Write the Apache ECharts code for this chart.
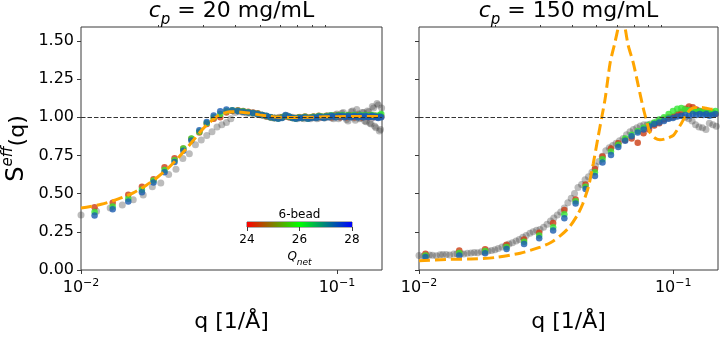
<!DOCTYPE html>
<html><head><meta charset="utf-8">
<script src="https://cdn.jsdelivr.net/npm/echarts@6/dist/echarts.min.js"></script>
<style>html,body{margin:0;padding:0;background:#fff}#c{width:722px;height:338px}</style>
</head><body><div id="c"></div>
<script>
// ---------- tick labels / axes ----------
const yTicks = [0, 0.25, 0.5, 0.75, 1.0, 1.25, 1.5];
const xMajorTicks = [0.01, 0.1];
const xMinorTicks = [0.02, 0.03, 0.04, 0.05, 0.06, 0.07, 0.08, 0.09];
const cbarTicks = [24, 26, 28];
const panelTitles = ['20', '150'];

// ---------- left panel (c_p = 20 mg/mL) ----------
const qLeftColored = [
 0.0113,0.0133,0.0153,0.0173,0.0192,0.0212,0.0232,0.0251,0.0270,0.0290,
 0.0310,0.0330,0.0350,0.0370,0.0390,0.0410,0.0430,0.0450,0.0470,0.0490,
 0.0510,0.0530,0.0550,0.0570,0.0590,0.0610,0.0630,0.0650,0.0670,0.0690,
 0.0710,0.0730,0.0750,0.0770,0.0790,0.0810,0.0830,0.0850,0.0870,0.0890,
 0.0910,0.0930,0.0950,0.0970,0.0990,0.1010,0.1030,0.1050,0.1070,0.1090,
 0.1110,0.1130,0.1150,0.1170,0.1190,0.1210,0.1230,0.1250,0.1270,0.1290,
 0.1310,0.1330,0.1350,0.1370,0.1390,0.1410,0.1430,0.1450,0.1470,0.1490];
const leftQ24 = [
 0.410,0.440,0.492,0.545,0.594,0.672,0.731,0.795,0.858,0.900,
 0.955,0.990,1.000,1.030,1.040,1.045,1.040,1.035,1.030,1.025,
 1.015,1.005,1.000,0.995,0.995,1.000,1.005,1.000,0.995,0.995,
 1.000,0.995,1.005,0.995,1.000,1.005,1.000,1.010,1.000,1.000,
 1.010,1.005,1.000,1.010,1.005,1.015,1.000,1.010,1.005,1.000,
 1.015,1.005,1.010,1.000,1.010,1.015,1.005,1.000,1.010,1.005,
 1.010,1.000,1.015,1.005,1.000,1.010,1.005,1.000,1.010,1.005];
const leftQ26 = [
 0.380,0.415,0.466,0.525,0.585,0.655,0.718,0.795,0.860,0.905,
 0.962,1.000,1.020,1.040,1.045,1.042,1.038,1.032,1.028,1.022,
 1.015,1.008,1.000,0.995,0.992,0.998,1.010,1.002,0.995,0.992,
 0.998,0.995,1.002,0.992,0.998,1.002,0.998,1.008,1.002,0.998,
 1.008,1.002,1.012,1.008,1.002,1.012,1.008,1.015,1.005,1.010,
 1.015,1.005,1.010,1.015,1.008,1.005,1.015,1.010,1.005,1.015,
 1.010,1.005,1.012,1.015,1.005,1.010,1.008,1.002,1.015,1.020];
const leftQ28 = [
 0.356,0.398,0.449,0.509,0.572,0.640,0.706,0.780,0.848,0.915,
 0.969,1.011,1.039,1.050,1.045,1.040,1.035,1.030,1.028,1.020,
 1.015,1.010,1.000,0.995,0.990,0.995,1.015,1.005,0.995,0.990,
 0.995,0.995,1.000,0.990,0.995,1.000,0.995,1.005,1.000,0.995,
 1.005,1.000,1.010,1.005,1.000,1.010,1.005,1.010,1.000,1.005,
 1.010,1.000,1.005,1.010,1.005,1.000,1.010,1.005,1.000,1.010,
 1.005,1.000,1.005,1.010,1.000,1.005,1.000,0.995,1.005,1.000];
const qLeftGreyA = [
 0.0100,0.0130,0.0160,0.0190,0.0220,0.0250,0.0280,0.0310,0.0340,0.0370,
 0.0400,0.0430,0.0460,0.0490,0.0520,0.0550,0.0580,0.0610,0.0640,0.0670,
 0.0700,0.0730,0.0760,0.0790,0.0820,0.0850,0.0880,0.0910,0.0940,0.0970,
 0.1000,0.1030,0.1060,0.1090,0.1120,0.1150,0.1180,0.1210,0.1240,0.1270,
 0.1300,0.1330,0.1360,0.1390,0.1420,0.1450,0.1480];
const leftGreyA = [
 0.360,0.405,0.460,0.545,0.625,0.730,0.820,0.880,0.935,0.965,
 1.030,1.030,1.025,1.020,1.010,1.000,0.995,1.000,1.010,1.000,
 0.990,0.995,1.000,0.990,1.000,0.995,1.005,1.000,1.010,0.990,
 1.020,1.000,1.030,0.985,1.010,1.040,0.980,1.020,0.995,1.030,
 0.970,1.035,0.955,1.060,0.930,1.080,0.920];
const qLeftGreyB = [
 0.0115,0.0145,0.0175,0.0205,0.0235,0.0265,0.0295,0.0325,0.0355,0.0385,
 0.0415,0.0445,0.0475,0.0505,0.0535,0.0565,0.0595,0.0625,0.0655,0.0685,
 0.0715,0.0745,0.0775,0.0805,0.0835,0.0865,0.0895,0.0925,0.0955,0.0985,
 0.1015,0.1045,0.1075,0.1105,0.1135,0.1165,0.1195,0.1225,0.1255,0.1285,
 0.1315,0.1345,0.1375,0.1405,0.1435,0.1465,0.1495];
const leftGreyB = [
 0.385,0.425,0.490,0.570,0.660,0.760,0.850,0.905,0.950,0.990,
 1.035,1.025,1.020,1.015,1.005,0.995,1.000,1.005,1.000,0.995,
 1.000,0.990,0.995,1.000,0.990,1.005,0.995,1.010,0.995,1.015,
 0.990,1.025,1.005,0.975,1.035,0.995,1.050,0.990,1.030,0.975,
 1.040,0.960,1.070,0.940,1.090,0.910,1.060];
const qLeftModel = [0.0100,0.0120,0.0140,0.0160,0.0180,0.0200,0.0220,0.0240,0.0260,0.0280,
 0.0300,0.0320,0.0340,0.0360,0.0380,0.0400,0.0450,0.0500,0.0550,0.0600,0.0700,0.0800,0.0900,0.1000,0.1200,0.1500];
const leftModel = [0.405,0.430,0.465,0.505,0.555,0.610,0.670,0.735,0.800,0.865,
 0.925,0.970,1.005,1.025,1.035,1.035,1.028,1.015,1.005,1.000,0.998,1.000,1.002,1.003,1.005,1.005];

// ---------- right panel (c_p = 150 mg/mL) ----------
const qRightColored = [
 0.0106,0.0144,0.0182,0.0221,0.0259,0.0297,0.0337,0.0373,0.0413,0.0452,
 0.0492,0.0527,0.0569,0.0608,0.0647,0.0686,0.0725,0.0764,0.0803,0.0842,
 0.0881,0.0920,0.0959,0.0998,0.1037,0.1076,0.1115,0.1154,0.1193,0.1232,
 0.1271,0.1310,0.1349,0.1388,0.1427,0.1466];
const rightQ24 = [
 0.106,0.127,0.135,0.165,0.200,0.244,0.307,0.392,0.462,0.560,
 0.661,0.742,0.795,0.830,0.850,0.860,0.833,0.895,0.920,0.945,
 0.960,0.985,1.000,1.005,1.020,1.035,1.055,1.070,1.065,1.050,
 1.040,1.035,1.030,1.025,1.030,1.020];
const rightQ26 = [
 0.095,0.112,0.125,0.150,0.185,0.225,0.280,0.365,0.450,0.545,
 0.640,0.725,0.775,0.820,0.860,0.885,0.910,0.930,0.950,0.965,
 0.985,1.000,1.020,1.040,1.055,1.060,1.050,1.045,1.040,1.035,
 1.040,1.030,1.035,1.025,1.030,1.040];
const rightQ28 = [
 0.085,0.095,0.110,0.138,0.170,0.208,0.259,0.339,0.435,0.530,
 0.615,0.704,0.753,0.805,0.845,0.875,0.900,0.920,0.940,0.955,
 0.965,0.975,0.990,0.995,1.005,1.010,1.015,1.010,1.020,1.015,
 1.020,1.015,1.020,1.010,1.015,1.020];
const qRightGreyA = [
 0.0100,0.0107,0.0113,0.0121,0.0128,0.0137,0.0146,0.0155,0.0165,0.0176,
 0.0187,0.0199,0.0212,0.0226,0.0241,0.0256,0.0273,0.0290,0.0309,0.0329,
 0.0350,0.0373,0.0397,0.0422,0.0450,0.0479,0.0510,0.0543,0.0578,0.0615,
 0.0655,0.0697,0.0742,0.0790,0.0841,0.0895,0.0953,0.1015,0.1080,0.1150,
 0.1224,0.1303,0.1387,0.1477];
const rightGreyA = [
 0.095,0.092,0.097,0.100,0.102,0.105,0.108,0.110,0.115,0.120,
 0.125,0.132,0.150,0.170,0.190,0.215,0.240,0.260,0.280,0.320,
 0.360,0.405,0.470,0.540,0.590,0.640,0.710,0.780,0.815,0.845,
 0.885,0.920,0.943,0.950,0.960,0.985,0.995,1.005,1.010,0.990,
 0.950,0.930,0.960,0.940];
const qRightGreyB = [
 0.0104,0.0110,0.0117,0.0124,0.0132,0.0141,0.0150,0.0160,0.0170,0.0181,
 0.0193,0.0205,0.0219,0.0233,0.0248,0.0264,0.0281,0.0299,0.0319,0.0339,
 0.0361,0.0385,0.0409,0.0436,0.0464,0.0494,0.0526,0.0560,0.0596,0.0635,
 0.0676,0.0719,0.0766,0.0815,0.0868,0.0924,0.0984,0.1047,0.1115,0.1187,
 0.1263,0.1345,0.1432];
const rightGreyB = [
 0.090,0.098,0.094,0.102,0.098,0.106,0.104,0.112,0.113,0.118,
 0.128,0.140,0.158,0.178,0.200,0.225,0.250,0.265,0.300,0.340,
 0.380,0.440,0.500,0.560,0.610,0.680,0.745,0.800,0.830,0.860,
 0.905,0.930,0.950,0.955,0.975,0.990,1.000,1.015,1.000,0.975,
 0.935,0.920,0.950];
const qRightModel = [0.0100,0.0132,0.0160,0.0200,0.0250,0.0300,0.0330,0.0360,0.0390,0.0420,
 0.0440,0.0465,0.0485,0.0505,0.0523,0.0540,0.0565,0.0590,0.0608,0.0618,0.0627,0.0636,0.0646,
 0.0665,0.0696,0.0730,0.0762,0.0790,0.0810,0.0850,0.0887,0.0930,0.1000,0.1040,0.1080,0.1120,
 0.1165,0.1220,0.1275,0.1350,0.1420,0.1500];
const rightModel = [0.060,0.070,0.072,0.082,0.110,0.150,0.180,0.225,0.280,0.360,
 0.430,0.551,0.699,0.860,0.996,1.123,1.357,1.490,1.590,1.660,1.690,1.660,1.590,
 1.470,1.357,1.200,1.060,0.960,0.900,0.862,0.852,0.858,0.880,0.920,0.964,1.010,
 1.049,1.064,1.064,1.058,1.052,1.050];

// ---------- build ----------
const L = Math.log10;
const pair = (qs, ys) => qs.map((q, i) => [L(q), ys[i]]);
const FONT = 'DejaVu Sans';
const AX = '#3a3a3a';
const cRed = '#cc3c12', cGreen = '#33e633', cBlue = '#1a5cb0';
const grey = 'rgba(55,55,55,0.42)';

const grids = [
  {left: 81, top: 27, width: 301, height: 250, show: true, borderColor: AX, borderWidth: 1},
  {left: 419, top: 27, width: 299, height: 250, show: true, borderColor: AX, borderWidth: 1},
  {left: 247, top: 222, width: 105, height: 5, show: true, borderColor: AX, borderWidth: 0.8}
];

function xMajor(g) {
  return {
    type: 'value', gridIndex: g, min: L(0.01), max: L(0.15),
    axisLine: {show: false}, splitLine: {show: false},
    axisTick: {customValues: xMajorTicks.map(L), length: 4, lineStyle: {color: AX}},
    axisLabel: {
      customValues: xMajorTicks.map(L), margin: 8, color: '#000',
      formatter: v => '10{s|−' + Math.round(-v) + '}',
      fontFamily: FONT, fontSize: 16, lineHeight: 20,
      rich: {s: {fontFamily: FONT, fontSize: 11, verticalAlign: 'top', lineHeight: 14}}
    },
    name: 'q [1/Å]', nameLocation: 'middle', nameGap: 41,
    nameTextStyle: {fontFamily: FONT, fontSize: 22, color: '#000'}
  };
}
function xMinor(g) {
  return {
    type: 'value', gridIndex: g, min: L(0.01), max: L(0.15),
    axisLine: {show: false}, splitLine: {show: false},
    axisTick: {customValues: xMinorTicks.map(L), length: 2, lineStyle: {color: AX}},
    axisLabel: {show: false}
  };
}
function yAx(g, labels) {
  const o = {
    type: 'value', gridIndex: g, min: 0, max: 1.59,
    axisLine: {show: false}, splitLine: {show: false},
    axisTick: {customValues: yTicks, length: 4, lineStyle: {color: AX}},
    axisLabel: {show: labels, customValues: yTicks, formatter: v => v.toFixed(2),
      fontFamily: FONT, fontSize: 16, color: '#000', margin: 7}
  };
  if (labels) {
    o.name = '{S|S}{e|eff}{n|(q)}';
    o.nameLocation = 'middle'; o.nameRotate = 90; o.nameGap = 52;
    o.nameTextStyle = {fontFamily: FONT, fontSize: 22, color: '#000', rich: {
      S: {fontFamily: FONT, fontSize: 24, lineHeight: 28, verticalAlign: 'bottom'},
      e: {fontFamily: FONT, fontSize: 15, fontStyle: 'italic', lineHeight: 28, verticalAlign: 'top'},
      n: {fontFamily: FONT, fontSize: 22, lineHeight: 28, verticalAlign: 'bottom'}
    }};
  }
  return o;
}

const xAxes = [xMajor(0), xMinor(0), xMajor(1), xMinor(1), {
  type: 'value', gridIndex: 2, min: cbarTicks[0], max: cbarTicks[cbarTicks.length - 1],
  axisLine: {show: false}, splitLine: {show: false},
  axisTick: {customValues: cbarTicks, length: 4, lineStyle: {color: AX}},
  axisLabel: {customValues: cbarTicks, fontFamily: FONT, fontSize: 12, color: '#000', margin: 7},
  name: '{q|Q}{s|net}', nameLocation: 'middle', nameGap: 24,
  nameTextStyle: {rich: {
    q: {fontFamily: FONT, fontSize: 12, fontStyle: 'italic', color: '#000', lineHeight: 16, verticalAlign: 'top'},
    s: {fontFamily: FONT, fontSize: 9, fontStyle: 'italic', color: '#000', lineHeight: 16, verticalAlign: 'bottom'}
  }}
}];
const yAxes = [yAx(0, true), yAx(1, false), {type: 'value', gridIndex: 2, min: 0, max: 1, show: false}];

function scatter(xi, yi, data, color, size) {
  return {type: 'scatter', xAxisIndex: xi, yAxisIndex: yi, data, symbolSize: size,
    itemStyle: {color}, silent: true};
}
function model(xi, yi, data) {
  return {type: 'line', xAxisIndex: xi, yAxisIndex: yi, data, symbol: 'none', smooth: 0.25,
    clip: true, lineStyle: {color: '#ffa500', width: 3, type: [11, 5]}, silent: true};
}
function refLine(s) {
  s.markLine = {silent: true, symbol: 'none', label: {show: false},
    lineStyle: {color: '#333', width: 1.2, type: [4.5, 2]}, data: [{yAxis: 1}]};
  return s;
}

const series = [
  model(0, 0, pair(qLeftModel, leftModel)),
  refLine(scatter(0, 0, pair(qLeftGreyA, leftGreyA), grey, 7)),
  scatter(0, 0, pair(qLeftGreyB, leftGreyB), grey, 7),
  scatter(0, 0, pair(qLeftColored, leftQ24), cRed, 6.5),
  scatter(0, 0, pair(qLeftColored, leftQ26), cGreen, 6.5),
  scatter(0, 0, pair(qLeftColored, leftQ28), cBlue, 6.5),
  refLine(scatter(2, 1, pair(qRightGreyA, rightGreyA), grey, 7)),
  scatter(2, 1, pair(qRightGreyB, rightGreyB), grey, 7),
  model(2, 1, pair(qRightModel, rightModel)),
  scatter(2, 1, pair(qRightColored, rightQ24), cRed, 6.5),
  scatter(2, 1, pair(qRightColored, rightQ26), cGreen, 6.5),
  scatter(2, 1, pair(qRightColored, rightQ28), cBlue, 6.5),
  {type: 'line', xAxisIndex: 4, yAxisIndex: 2, symbol: 'none', silent: true,
   data: [[cbarTicks[0], 1], [cbarTicks[cbarTicks.length - 1], 1]],
   lineStyle: {width: 0},
   areaStyle: {opacity: 1, color: new echarts.graphic.LinearGradient(0, 0, 1, 0, [
     {offset: 0, color: '#ff0000'}, {offset: 0.5, color: '#00ff00'}, {offset: 1, color: '#0000ff'}])}}
];

const titleRich = {
  c: {fontFamily: FONT, fontSize: 22, fontStyle: 'italic', lineHeight: 28, verticalAlign: 'top'},
  p: {fontFamily: FONT, fontSize: 15, fontStyle: 'italic', lineHeight: 28, verticalAlign: 'bottom'},
  t: {fontFamily: FONT, fontSize: 22, lineHeight: 28, verticalAlign: 'top'}
};
const graphic = [
  {type: 'text', x: 231.5, y: 14, silent: true, style: {
    text: '{c|c}{p|p}{t| = ' + panelTitles[0] + ' mg/mL}', rich: titleRich,
    align: 'center', verticalAlign: 'middle', fill: '#000'}},
  {type: 'text', x: 568.5, y: 14, silent: true, style: {
    text: '{c|c}{p|p}{t| = ' + panelTitles[1] + ' mg/mL}', rich: titleRich,
    align: 'center', verticalAlign: 'middle', fill: '#000'}},
  {type: 'text', x: 299.5, y: 215, silent: true, style: {
    text: '6-bead', font: '12px "DejaVu Sans"', align: 'center', verticalAlign: 'middle', fill: '#000'}}
];

const chart = echarts.init(document.getElementById('c'), null, {renderer: 'canvas'});
chart.setOption({animation: false, backgroundColor: '#fff', grid: grids, xAxis: xAxes, yAxis: yAxes, series, graphic});
</script></body></html>
